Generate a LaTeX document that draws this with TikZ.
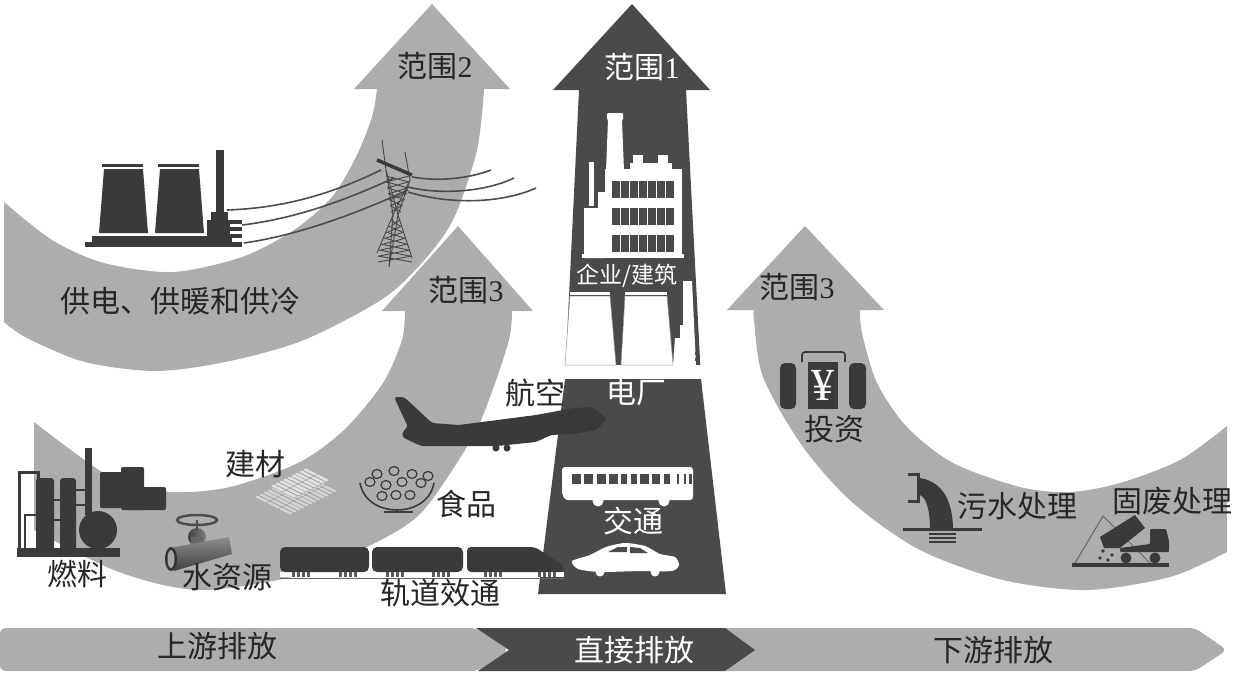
\documentclass[tikz,border=0pt]{standalone}
\usepackage{fontspec}
\setmainfont{Liberation Serif}
\newfontfamily\cjk{Noto Sans CJK SC}
\definecolor{scopegrey}{HTML}{ADADAD}
\definecolor{scopedark}{HTML}{4A4A4A}
\definecolor{icondark}{HTML}{3A3A3A}
\tikzset{
	lab/.style={inner sep=0pt, font=\cjk\fontsize{30}{32}\selectfont, text=black!85},
	labwhite/.style={lab, text=white},
	icon/.style={fill=icondark, draw=none},
	wire/.style={draw=black!70, line width=1.6pt},
	lattice/.style={draw=black!72, line width=0.9pt}
}
\begin{document}
\begin{tikzpicture}[x=1pt, y=-1pt]
	\useasboundingbox (0,0) rectangle (1237,673);

	% Scope 2 arrow
	\fill[scopegrey] (432,4) -- (510,89) -- (484,89)
		-- plot[smooth] coordinates {(484,89) (477,150) (453,220) (420,265) (381,300) (304,340) (230,361) (157,371) (85,362) (27,338) (4,322)}
		-- (4,202)
		-- plot[smooth] coordinates {(4,202) (52,240) (104,263) (173,272) (242,257) (294,230) (332,197) (356,157) (372,117) (377,89)}
		-- (354,89) -- cycle;

	% Scope 3 arrow, upstream
	\fill[scopegrey] (458,226) -- (533,311) -- (512,311)
		-- plot[smooth] coordinates {(512,311) (509,340) (490,397) (471,440) (421,513) (367,547) (300,575) (200,590) (119,572) (34,530)}
		-- (34,422)
		-- plot[smooth] coordinates {(34,422) (115,480) (172,492) (230,487) (298,463) (344,430) (383,383) (402,340) (405,311)}
		-- (382,311) -- cycle;

	% Scope 3 arrow, downstream
	\fill[scopegrey] (805,226) -- (884,310) -- (860,310)
		-- plot[smooth] coordinates {(860,310) (862,333) (877,383) (907,427) (953,463) (1020,487) (1070,492) (1120,483) (1180,460) (1227,426)}
		-- (1227,552)
		-- plot[smooth] coordinates {(1227,552) (1170,577) (1087,590) (1003,580) (920,550) (853,503) (803,447) (763,377) (754,320) (754,310)}
		-- (727,310) -- cycle;

	% Scope 1 arrow
	\fill[scopedark] (632,4) -- (710,90) -- (686,90) -- (701,379) -- (726,594)
		-- (538,594) -- (565,379) -- (579,90) -- (553,90) -- cycle;

	% Bottom band
	\fill[scopegrey, rounded corners=6pt] (720,628) -- (1195,628) -- (1227,650) -- (1195,671) -- (720,671) -- cycle;
	\fill[scopegrey, rounded corners=6pt] (0,628) -- (476,628) -- (509,650) -- (478,671) -- (0,671) -- cycle;
	\fill[scopedark] (476,628) -- (725,628) -- (755,650) -- (725,671) -- (478,671) -- (509,650) -- cycle;

	% Power plant, left
	\foreach \dx in {0,56}{
		\fill[icon] (104+\dx,169) -- (143+\dx,169) -- (148+\dx,233) -- (99+\dx,233) -- cycle;
		\fill[icon] (102+\dx,164) rectangle (143+\dx,167);
	}
	\fill[icon] (92,236) rectangle (232,243);
	\fill[icon] (85,242) rectangle (242,247);
	\fill[icon] (216,150) rectangle (224,213);
	\fill[icon] (211,212) rectangle (228,220);
	\fill[icon] (207,220) rectangle (230,238);
	\foreach \sy in {220,227,234}{
		\fill[icon] (230,\sy) rectangle (242,\sy+4);
	}

	% Wires
	\draw[wire] (227,210) .. controls (290,208) and (340,190) .. (381,170);
	\draw[wire] (242,225) .. controls (300,218) and (350,198) .. (394,178);
	\draw[wire] (244,243) .. controls (300,235) and (360,212) .. (408,190);
	\draw[wire] (412,177) .. controls (440,182) and (470,178) .. (491,170);
	\draw[wire] (408,187) .. controls (445,196) and (490,190) .. (514,178);
	\draw[wire] (408,192) .. controls (455,206) and (505,202) .. (536,188);

	% Pylon
	\draw[lattice] (382,140) -- (386,170) -- (393,215) -- (377,253);
	\draw[lattice] (405,152) -- (410,180) -- (398,215) -- (412,258);
	\draw[lattice] (386,170) -- (398,215) (410,180) -- (393,215) (393,215) -- (389,267) -- (398,215);
	\foreach \ly/\la/\lb in {176/386/409,182/387/408,188/388/407,194/389/405,200/390/403,206/391/401,220/391/400,226/388/402,232/386/404,238/384/406,244/381/408,250/379/410,256/378/412}{
		\draw[lattice] (\la,\ly) -- (\lb,\ly+6) (\lb,\ly) -- (\la,\ly+6);
	}
	\draw[icondark, line width=3.5pt] (377,160) -- (412,175);

	% Upstream refinery
	\fill[icon] (17,548) rectangle (120,557);
	\fill[icon, rounded corners=3pt] (36,478) rectangle (54,552);
	\fill[icon, rounded corners=3pt] (60,478) rectangle (76,552);
	\fill[icon] (85,448) rectangle (92,515);
	\fill[icon] (98,530) ellipse [x radius=19pt, y radius=19pt];
	\draw[icondark, line width=3pt] (19,548) -- (19,472) -- (38,472) -- (38,480);
	\draw[icondark, line width=2pt] (25,548) -- (25,515) -- (36,515);
	\draw[icondark, line width=2pt] (54,500) -- (60,500) (54,520) -- (60,520) (76,490) -- (85,490) (76,505) -- (85,505);
	\fill[icon, rounded corners=2pt] (100,472) rectangle (122,508);
	\fill[icon, rounded corners=2pt] (121,467) rectangle (144,510);
	\fill[icon, rounded corners=2pt] (128,487) rectangle (166,510);

	% Water valve
	\shade[left color=black!75, right color=black!50] (197,537) ellipse [x radius=9pt, y radius=9pt];
	\fill[black!60] (191,537) rectangle (203,551);
	\shade[top color=black!45, bottom color=black!75] (170,548) -- (229,537) -- (232,554) -- (174,571) -- cycle;
	\fill[black!80] (171,559) ellipse [x radius=6pt, y radius=12pt];
	\fill[black!35] (171,559) ellipse [x radius=3.5pt, y radius=9pt];
	\draw[black!70, line width=2.5pt] (197,520) ellipse [x radius=20pt, y radius=5pt];
	\draw[black!70, line width=2pt] (197,520) -- (197,530);

	% Bricks
	\foreach \bi in {0,1,2,3}{
		\foreach \bj in {0,1,2}{
			\fill[white!82!black, draw=black!35, line width=0.4pt, shift={(254+\bi*12+\bj*12, 497-\bi*6+\bj*6)}]
				(0,0) -- (12,-6) -- (24,0) -- (12,6) -- cycle;
			\draw[black!45, line width=0.5pt, shift={(254+\bi*12+\bj*12, 497-\bi*6+\bj*6)}]
				(4,-2) -- (16,4) (8,-4) -- (20,2);
		}
	}
	\foreach \bi in {0,1,2}{
		\foreach \bj in {0,1}{
			\fill[white!88!black, draw=black!35, line width=0.4pt, shift={(270+\bi*12+\bj*12, 486-\bi*6+\bj*6)}]
				(0,0) -- (12,-6) -- (24,0) -- (12,6) -- cycle;
			\draw[black!45, line width=0.5pt, shift={(270+\bi*12+\bj*12, 486-\bi*6+\bj*6)}]
				(4,-2) -- (16,4) (8,-4) -- (20,2);
		}
	}

	% Food bowl
	\foreach \fx/\fy in {370/482,377/474,386/485,394/471,402/482,412/474,421/483,428/476,382/496,396/495,410/495}{
		\draw[icondark, line width=1.2pt] (\fx,\fy) ellipse [x radius=5pt, y radius=4.5pt];
	}
	\draw[icondark, line width=1.6pt] (360,483) .. controls (364,504) and (384,510) .. (397,510) .. controls (410,510) and (430,504) .. (434,483);
	\draw[icondark, line width=2pt] (384,512) -- (413,512);

	% Plane
	\fill[icon, rounded corners=3pt] (394,397) -- (404,397) -- (432,423) -- (459,425) -- (536,415) -- (574,408) -- (592,407)
		-- (607,419) -- (596,430) -- (572,434) -- (551,435) -- (536,442) -- (497,446) -- (421,446) -- (402,437) -- (403,431) -- (408,427) -- cycle;
	\fill[icon] (496,448) circle (3.5pt) (507,448) circle (3.5pt);

	% Train
	\fill[white] (280,572) rectangle (564,577);
	\fill[icon, rounded corners=5pt] (280,547) rectangle (369,572);
	\fill[icon, rounded corners=5pt] (372,547) rectangle (463,572);
	\fill[icon, rounded corners=4pt] (467,572) -- (467,547) -- (535,547) -- (564,566) -- (564,572) -- cycle;
	\foreach \wx in {292,339,386,432,484,538}{
		\foreach \wd in {0,5,10,15}{
			\fill[black!65] (\wx+\wd,572) rectangle (\wx+\wd+3,577);
		}
	}
	\draw[black!60, line width=1pt] (280,578) -- (564,578);

	% Factory
	\fill[white] (608,120) -- (622,120) -- (624,171) -- (606,171) -- cycle;
	\fill[white, rounded corners=1pt] (607,113) rectangle (623,120);
	\fill[white] (605,169) rectangle (682,258);
	\fill[white] (630,163) rectangle (672,169);
	\fill[white] (633,155) rectangle (643,163);
	\fill[white] (658,155) rectangle (668,163);
	\fill[white] (584,208) -- (598,208) -- (598,192) -- (605,192) -- (605,258) -- (584,258) -- cycle;
	\fill[white] (589,162) rectangle (594,206);
	\fill[white] (582,254) rectangle (684,258);
	\foreach \wy in {181,208,235}{
		\foreach \wx in {612,621,630,639,648,657,666}{
			\fill[scopedark] (\wx,\wy) rectangle (\wx+7.5,\wy+17);
		}
	}

	% Power plant, centre
	\fill[white] (565,365) rectangle (701,379);
	\fill[white, draw=black!40, line width=0.5pt] (570,296) -- (610,296) -- (616,365) -- (565,365) -- cycle;
	\fill[white, draw=black!40, line width=0.5pt] (625,296) -- (667,296) -- (673,365) -- (621,365) -- cycle;
	\fill[white] (570,292) rectangle (610,295);
	\fill[white] (625,292) rectangle (667,295);
	\fill[white] (683,281) -- (692,281) -- (696,365) -- (673,365) -- (675,338) -- (680,338) -- (680,325) -- (683,325) -- cycle;
	\foreach \sy in {352,358}{
		\fill[scopedark] (695,\sy) rectangle (699,\sy+3);
	}

	% Bus
	\fill[white, rounded corners=3pt] (562,467) -- (693,467) -- (693,500) -- (565,500) -- (562,494) -- cycle;
	\fill[white] (598,501) circle (5.5pt) (664,501) circle (5.5pt);
	\foreach \bx/\bw in {572/9,584/9,597/9,609/9,621/6,631/6,640/9,652/8,664/6,677/2,684/2,689/3}{
		\fill[scopedark] (\bx,474) rectangle (\bx+\bw,484);
	}

	% Car
	\fill[white] plot[smooth cycle, tension=0.4] coordinates {(572,561) (590,555) (606,547) (625,543) (645,546) (660,554) (675,557) (679,565) (672,571) (640,571) (600,572) (578,569)};
	\fill[white] (600,572) circle (4.5pt) (655,572) circle (4.5pt);
	\fill[scopedark] (608,552) -- (618,547) -- (627,547) -- (627,552) -- cycle;
	\fill[scopedark] (630,547) -- (640,548) -- (648,553) -- (630,553) -- cycle;

	% Bag
	\fill[icon, rounded corners=5pt] (780,363) rectangle (796,409);
	\fill[icon, rounded corners=5pt] (849,363) rectangle (866,409);
	\fill[icon] (808,362) rectangle (838,409);
	\draw[icondark, line width=1.6pt, rounded corners=3pt] (802,362) -- (802,352) -- (845,352) -- (845,362);

	% Sewage pipe
	\fill[icon] (908,473) rectangle (920,476);
	\fill[icon] (908,500) rectangle (920,503);
	\fill[icon] (917,473) rectangle (920,503);
	\fill[icon] (920,478) .. controls (945,482) and (953,505) .. (953,530) -- (930,530) .. controls (930,512) and (927,498) .. (920,495) -- cycle;
	\fill[icon] (903,528) rectangle (982,531);
	\foreach \sy in {533,537,541}{
		\fill[icon] (929,\sy) rectangle (956,\sy+2);
	}

	% Dump truck
	\draw[black!60, line width=1pt] (1075,563) -- (1103,516) -- (1150,563);
	\fill[icon] (1072,563) rectangle (1169,567);
	\fill[icon] (1100,537) -- (1135,515) -- (1145,528) -- (1120,548) -- (1104,548) -- cycle;
	\fill[icon, rounded corners=1pt] (1150,529) -- (1166,529) -- (1169,541) -- (1169,552) -- (1120,552) -- (1120,548) -- (1150,544) -- cycle;
	\fill[icon] (1126,558) circle (5.5pt) (1155,558) circle (5.5pt);
	\foreach \dx/\dy in {1108/544,1103/551,1100/558,1108/560,1112/555}{
		\fill[icon] (\dx,\dy) circle (1.8pt);
	}

	% Labels
	\node[lab] (scopetwo) at (435,66) {范围\rmfamily 2};
	\node[lab] (scopethreeup) at (466,290) {范围\rmfamily 3};
	\node[lab] (scopethreedown) at (797,287) {范围\rmfamily 3};
	\node[labwhite] (scopeone) at (642,67) {范围\rmfamily 1};
	\node[lab] (heating) at (180,301) {供电、供暖和供冷};
	\node[labwhite, font=\cjk\fontsize{23}{25}\selectfont] (firm) at (627,276) {企业/建筑};
	\node[labwhite] (plant) at (636,392) {电厂};
	\node[labwhite] (traffic) at (633,521) {交通};
	\node[lab] (aviation) at (535,393) {航空};
	\node[lab] (food) at (466,504) {食品};
	\node[lab] (material) at (255,464) {建材};
	\node[lab] (fuel) at (77,574) {燃料};
	\node[lab] (water) at (227,577) {水资源};
	\node[lab] (rail) at (440,593) {轨道效通};
	\node[lab] (invest) at (834,429) {投资};
	\node[lab] (sewage) at (1017,506) {污水处理};
	\node[lab] (waste) at (1172,501) {固废处理};
	\node[font=\rmfamily\fontsize{46}{48}\selectfont, text=white, inner sep=0pt] (yensign) at (823,385) {¥};
	\node[lab] (upstream) at (217,646) {上游排放};
	\node[labwhite] (direct) at (634,650) {直接排放};
	\node[lab] (downstream) at (993,650) {下游排放};
\end{tikzpicture}
\end{document}
